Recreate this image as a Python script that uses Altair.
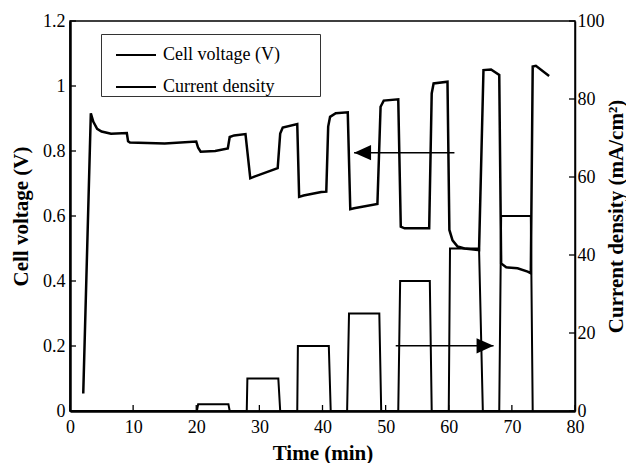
import altair as alt
import pandas as pd

# ---- data ----
time_v = [2.1, 3.3, 3.7, 4.3, 5.0, 6.5, 9.0, 9.2, 9.5, 15.0, 20.0, 20.3, 20.7, 23.0, 25.0,
          25.3, 26.0, 27.8, 28.56, 29.2, 32.9, 33.3, 33.7, 36.0, 36.3, 37.0, 39.8, 40.6,
          40.9, 41.2, 42.1, 44.0, 44.4, 45.0, 48.7, 49.2, 49.7, 52.0, 52.4, 53.0, 56.9,
          57.3, 57.6, 59.8, 60.1, 60.6, 61.4, 62.5, 64.8, 65.5, 66.7, 68.0, 68.3, 69.1,
          70.9, 72.5, 73.0, 73.3, 73.8, 75.9]
voltage = [0.054, 0.916, 0.89, 0.868, 0.86, 0.853, 0.855, 0.83, 0.826, 0.823, 0.829, 0.81,
           0.798, 0.800, 0.808, 0.843, 0.848, 0.852, 0.716, 0.721, 0.747, 0.854, 0.872, 0.883,
           0.659, 0.663, 0.674, 0.675, 0.875, 0.905, 0.916, 0.919, 0.621, 0.624, 0.637, 0.936,
           0.955, 0.959, 0.567, 0.562, 0.562, 0.977, 1.008, 1.013, 0.557, 0.525, 0.506, 0.500,
           0.495, 1.049, 1.051, 1.034, 0.454, 0.442, 0.439, 0.429, 0.424, 1.060, 1.062, 1.031]

time_c = [0, 20.1, 20.3, 25.1, 25.3, 28.0, 28.1, 33.0, 33.3, 36.0, 36.1, 41.0, 41.3,
          43.9, 44.2, 49.0, 49.3, 52.0, 52.3, 57.0, 57.3, 60.0, 60.2, 64.8, 65.4, 68.0,
          68.3, 73.0, 73.3]
current = [0, 0, 1.7, 1.7, 0, 0, 8.33, 8.33, 0, 0, 16.67, 16.67, 0, 0, 25, 25, 0, 0,
           33.33, 33.33, 0, 0, 41.67, 41.67, 0, 0, 50, 50, 0]

series_names = ["Cell voltage (V)", "Current density"]
x_ticks = [0, 10, 20, 30, 40, 50, 60, 70, 80]
v_ticks = [0, 0.2, 0.4, 0.6, 0.8, 1, 1.2]
c_ticks = [0, 20, 40, 60, 80, 100]

# arrows (start, end, level)
arrow_v_start, arrow_v_end, arrow_v_level = [60.9], [45.0], [0.795]
arrow_c_start, arrow_c_end, arrow_c_level = [51.6], [67.1], [16.7]

df_v = pd.DataFrame({"t": time_v, "y": voltage, "series": series_names[0]})
df_c = pd.DataFrame({"t": time_c, "y": current, "series": series_names[1]})
df_av = pd.DataFrame({"xs": arrow_v_start, "xe": arrow_v_end, "y": arrow_v_level})
df_ac = pd.DataFrame({"xs": arrow_c_start, "xe": arrow_c_end, "y": arrow_c_level})
df_xt = pd.DataFrame({"t": x_ticks})
df_vt = pd.DataFrame({"y": v_ticks})
df_ct = pd.DataFrame({"y": c_ticks})

FONT = "Liberation Serif"
PLOT_W = 505
PLOT_H = 390
TICK = 6  # inward tick length

xscale = alt.Scale(domain=[0, 80], nice=False)


def vscale():
    return alt.Scale(domain=[0, 1.2], nice=False)


def cscale():
    return alt.Scale(domain=[0, 100], nice=False)


def xaxis():
    return alt.Axis(values=x_ticks, title="Time (min)", format="d", ticks=False,
                    labelFlush=False, grid=False, domainWidth=2.5, domainColor="black",
                    labelPadding=7, titlePadding=6)


vaxis = alt.Axis(orient="left", values=v_ticks, title="Cell voltage (V)", format="~g",
                 ticks=False, grid=False, domainWidth=2.5, domainColor="black",
                 labelPadding=5, titlePadding=11)
caxis = alt.Axis(orient="right", values=c_ticks, title="Current density (mA/cm²)",
                 format="d", ticks=False, grid=False, domainWidth=1.5,
                 domainColor="black", labelPadding=2, titlePadding=1, titleAngle=270,
                 titleBaseline="top")

color_scale = alt.Scale(domain=series_names, range=["black", "black"])
color = alt.Color("series:N", scale=color_scale,
                  legend=alt.Legend(orient="none", legendX=31, legendY=13, title="\u2003",
                                    titleOrient="right", titlePadding=40, titleFontSize=13,
                                    symbolType="stroke", symbolSize=1600,
                                    symbolStrokeWidth=2, symbolOffset=14,
                                    labelFont=FONT, labelFontSize=18, labelColor="black",
                                    labelOffset=6, padding=0, rowPadding=2,
                                    strokeColor="#333", fillColor="white",
                                    direction="vertical"))

v_line = alt.Chart(df_v).mark_line(strokeWidth=2.5).encode(
    x=alt.X("t:Q", scale=xscale, axis=xaxis()),
    y=alt.Y("y:Q", scale=vscale(), axis=vaxis),
    color=color,
)
v_arrow = alt.Chart(df_av).mark_rule(strokeWidth=1.5, color="black").encode(
    x=alt.X("xs:Q", scale=xscale, axis=xaxis()), x2="xe:Q",
    y=alt.Y("y:Q", scale=vscale(), axis=None))
v_head = alt.Chart(df_av).mark_point(shape="M0,0L1,-0.45L1,0.45Z", size=1156,
                                     filled=True, opacity=1, color="black").encode(
    x=alt.X("xe:Q", scale=xscale, axis=xaxis()),
    y=alt.Y("y:Q", scale=vscale(), axis=None))

c_line = alt.Chart(df_c).mark_line(strokeWidth=2).encode(
    x=alt.X("t:Q", scale=xscale, axis=xaxis()),
    y=alt.Y("y:Q", scale=cscale(), axis=caxis),
    color=alt.Color("series:N", scale=color_scale, legend=None),
)
c_arrow = alt.Chart(df_ac).mark_rule(strokeWidth=1.5, color="black").encode(
    x=alt.X("xs:Q", scale=xscale, axis=xaxis()), x2="xe:Q",
    y=alt.Y("y:Q", scale=cscale(), axis=None))
c_head = alt.Chart(df_ac).mark_point(shape="M0,0L-1,-0.45L-1,0.45Z", size=1156,
                                     filled=True, opacity=1, color="black").encode(
    x=alt.X("xe:Q", scale=xscale, axis=xaxis()),
    y=alt.Y("y:Q", scale=cscale(), axis=None))

# inward tick marks
x_tick_marks = alt.Chart(df_xt).mark_rule(strokeWidth=1.3, color="black").encode(
    x=alt.X("t:Q", scale=xscale, axis=xaxis()),
    y=alt.value(PLOT_H), y2=alt.value(PLOT_H - TICK))
v_tick_marks = alt.Chart(df_vt).mark_rule(strokeWidth=1.3, color="black").encode(
    y=alt.Y("y:Q", scale=vscale(), axis=None),
    x=alt.value(0), x2=alt.value(TICK))
c_tick_marks = alt.Chart(df_ct).mark_rule(strokeWidth=1.3, color="black").encode(
    y=alt.Y("y:Q", scale=cscale(), axis=None),
    x=alt.value(PLOT_W), x2=alt.value(PLOT_W - TICK))

chart = alt.layer(v_line, c_line, v_arrow, v_head, c_arrow, c_head,
                  x_tick_marks, v_tick_marks, c_tick_marks).resolve_scale(
    y="independent"
).properties(
    width=PLOT_W, height=PLOT_H,
    padding={"left": 10, "top": 12, "right": 0, "bottom": 0},
    background="white",
).configure_view(stroke="black", strokeWidth=1.5).configure_axis(
    labelFont=FONT, labelFontSize=18, labelColor="black",
    titleFont=FONT, titleFontSize=21, titleFontWeight="bold", titleColor="black",
)

chart.save("out.html", embed_options={"renderer": "svg", "actions": False})
